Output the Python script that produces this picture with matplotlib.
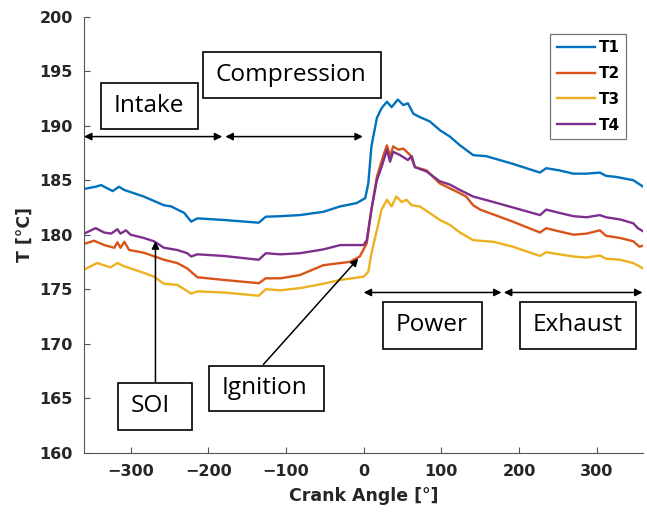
import matplotlib
matplotlib.use("Agg")
import matplotlib.pyplot as plt
from matplotlib.patches import Rectangle

# ---- data ----
t1_x = [-360,-345,-338,-323,-315,-308,-283,-257,-248,-231,-222,-214,-180,-135,-126,-107,-82,-52,-30,-9,2,6,10,17,23,30,36,44,51,57,64,72,85,98,111,124,141,158,192,227,235,252,270,287,304,312,325,347,360]
t1_y = [184.2,184.4,184.55,184.0,184.4,184.1,183.5,182.7,182.6,182.0,181.2,181.5,181.35,181.1,181.65,181.7,181.8,182.1,182.6,182.9,183.35,184.7,188.1,190.7,191.6,192.2,191.7,192.4,191.9,192.05,191.1,190.8,190.4,189.6,189.0,188.2,187.3,187.2,186.5,185.7,186.1,185.9,185.6,185.6,185.7,185.4,185.3,185.0,184.4]

t2_x = [-360,-347,-334,-321,-317,-313,-308,-302,-283,-257,-240,-227,-214,-180,-135,-126,-107,-82,-52,-30,-18,-5,4,10,17,25,30,34,38,45,51,60,66,81,98,107,124,132,141,150,192,227,235,252,270,287,304,312,330,347,355,360]
t2_y = [179.15,179.45,179.05,178.8,179.3,178.8,179.35,178.6,178.35,177.7,177.4,176.9,176.1,175.85,175.55,176.0,176.0,176.3,177.2,177.4,177.5,178.0,179.2,182.3,185.3,187.2,188.2,187.2,188.1,187.8,187.9,187.3,186.2,185.9,184.7,184.4,183.8,183.5,182.7,182.3,181.2,180.2,180.6,180.3,180.0,180.1,180.4,179.9,179.7,179.4,178.9,179.0]

t3_x = [-360,-343,-326,-317,-308,-283,-270,-257,-240,-222,-214,-180,-135,-126,-107,-82,-52,-30,0,6,10,17,23,30,36,42,49,55,62,72,85,98,111,124,141,167,192,227,235,252,270,287,304,312,330,347,360]
t3_y = [176.8,177.4,177.0,177.4,177.1,176.5,176.15,175.5,175.4,174.6,174.8,174.7,174.4,175.0,174.9,175.1,175.5,175.85,176.15,176.6,178.3,180.4,182.3,183.2,182.6,183.5,183.0,183.2,182.7,182.6,182.0,181.35,180.9,180.2,179.5,179.35,178.9,178.05,178.4,178.2,178.0,177.9,178.1,177.8,177.7,177.4,176.9]

t4_x = [-360,-345,-334,-325,-317,-313,-306,-300,-283,-270,-257,-240,-227,-222,-214,-180,-135,-126,-107,-82,-52,-30,0,4,10,17,23,30,34,38,47,57,62,66,81,98,111,124,141,167,192,227,235,252,270,287,304,312,330,347,353,360]
t4_y = [180.1,180.6,180.2,180.1,180.5,180.1,180.4,180.0,179.7,179.4,178.8,178.6,178.3,178.0,178.2,178.05,177.7,178.3,178.2,178.3,178.65,179.05,179.05,179.5,182.3,185.0,186.2,187.8,186.7,187.6,187.3,186.85,187.2,186.2,185.8,184.9,184.6,184.1,183.5,183.0,182.5,181.8,182.3,182.0,181.7,181.6,181.8,181.6,181.4,181.05,180.6,180.3]

series_labels = ["T1", "T2", "T3", "T4"]
series_colors = ["#0072BD", "#D95319", "#EDB120", "#7E2F8E"]

x_ticks = [-300, -200, -100, 0, 100, 200, 300]
y_ticks = [160, 165, 170, 175, 180, 185, 190, 195, 200]

# ---- figure ----
fig = plt.figure(figsize=(6.47, 5.20), dpi=100)
ax = fig.add_axes([0.1298, 0.1294, 0.8645, 0.8385])

for xs, ys, lab, col in zip([t1_x, t2_x, t3_x, t4_x], [t1_y, t2_y, t3_y, t4_y],
                            series_labels, series_colors):
    ax.plot(xs, ys, color=col, lw=1.7, label=lab)

ax.set_xlim(-360, 360)
ax.set_ylim(160, 200)
ax.set_xticks(x_ticks)
ax.set_yticks(y_ticks)
axc = "#262626"
for s in ["top", "right"]:
    ax.spines[s].set_visible(False)
for s in ["left", "bottom"]:
    ax.spines[s].set_color("#555555")
    ax.spines[s].set_linewidth(0.8)
ax.tick_params(direction="in", length=4, width=0.8, color="#555555",
               labelsize=11.5, labelcolor=axc, pad=8)
for lbl in ax.get_xticklabels() + ax.get_yticklabels():
    lbl.set_fontweight("bold")
ax.set_xlabel("Crank Angle [°]", fontsize=12.5, fontweight="bold", color=axc, labelpad=6)
ax.set_ylabel("T [°C]", fontsize=12.5, fontweight="bold", color=axc, labelpad=4)

leg = ax.legend(loc="upper right", bbox_to_anchor=(0.969, 0.9596), borderaxespad=0,
                fancybox=False, edgecolor="#777777", framealpha=1,
                prop={"weight": "bold", "size": 11}, handlelength=2.5,
                handletextpad=0.25, labelspacing=0.7, borderpad=0.4)
leg.get_frame().set_linewidth(0.9)

# ---- annotations ----
afont = dict(family="Open Sans", fontsize=17.6, color="black")
boxes = [
    ("Intake", -337.6, 189.67, 124.6, 4.27),
    ("Compression", -206.3, 192.5, 228.5, 4.27),
    ("Power", 25.2, 169.5, 127.3, 4.35),
    ("Exhaust", 201.4, 169.5, 148.8, 4.35),
    ("SOI", -315.6, 162.1, 95.1, 4.3),
    ("Ignition", -198.6, 163.8, 147.9, 4.2),
]
for txt, x0, y0, w, h in boxes:
    ax.add_patch(Rectangle((x0, y0), w, h, fill=False, lw=1.2, ec="black", clip_on=False))
    ax.text(x0 + 15.5, y0 + h / 2, txt, ha="left", va="center", **afont)

aprops2 = dict(arrowstyle="<|-|>", color="black", lw=1.1, mutation_scale=11, shrinkA=0, shrinkB=0)
aprops1 = dict(arrowstyle="-|>", color="black", lw=1.1, mutation_scale=11, shrinkA=0, shrinkB=0)
ax.annotate("", xy=(-182, 189.0), xytext=(-360, 189.0), arrowprops=aprops2, annotation_clip=False)
ax.annotate("", xy=(-1, 189.0), xytext=(-178, 189.0), arrowprops=aprops2, annotation_clip=False)
ax.annotate("", xy=(177.5, 174.7), xytext=(0, 174.7), arrowprops=aprops2, annotation_clip=False)
ax.annotate("", xy=(359, 174.7), xytext=(180.5, 174.7), arrowprops=aprops2, annotation_clip=False)
ax.annotate("", xy=(-268, 179.4), xytext=(-268, 166.5), arrowprops=aprops1)
ax.annotate("", xy=(-7, 177.8), xytext=(-129, 168.1), arrowprops=aprops1)

fig.savefig("out.png", dpi=100)
